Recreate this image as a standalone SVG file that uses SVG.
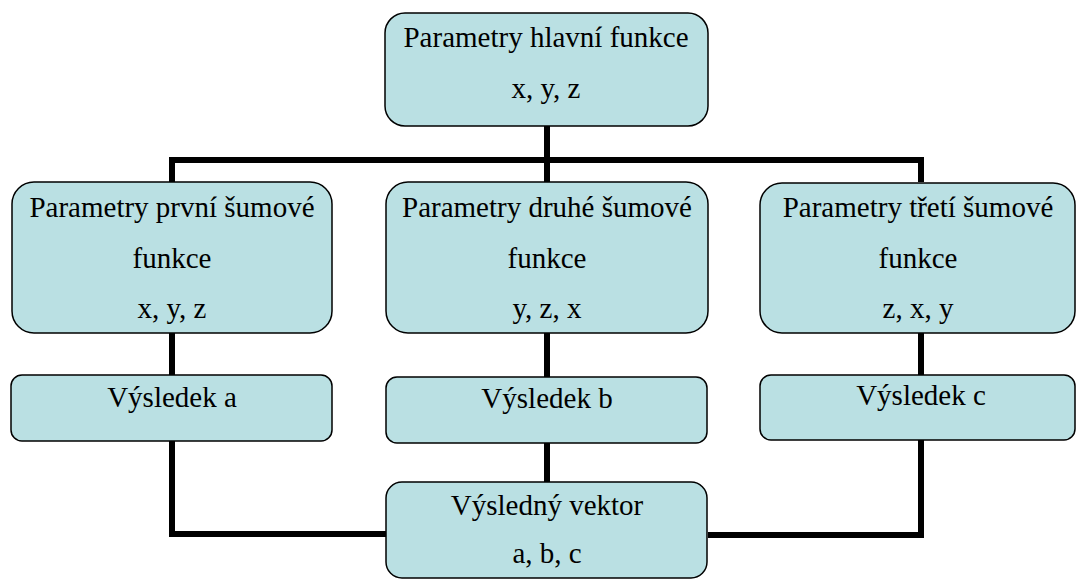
<svg xmlns="http://www.w3.org/2000/svg" width="1076" height="583" viewBox="0 0 1076 583">
<style>
.box{fill:#bae0e3;stroke:#000;stroke-width:1.5}
.c{fill:none;stroke:#000;stroke-width:6;stroke-linejoin:miter}
</style>
<rect width="1076" height="583" fill="#fff"/>
<g id="connectors">
<path class="c" d="M547 126 V160 M172 182 V160 H921 V182"/>
<path class="c" d="M547 160 V182"/>
<path class="c" d="M172 333 V375 M547 333 V377 M921 333 V375"/>
<path class="c" d="M172 441 V534 H386 M547 443 V482 M921 440 V535 H708"/>
</g>
<g id="top">
<rect class="box" x="385" y="13" width="323" height="113" rx="20"/>
<text x="546" y="47" font-family="Liberation Serif" font-size="29" text-anchor="middle" style="font-family:'Liberation Serif',serif">Parametry hlavní funkce</text>
<text x="546" y="98" font-family="Liberation Serif" font-size="29" text-anchor="middle" style="font-family:'Liberation Serif',serif">x, y, z</text>
</g>
<g id="p1">
<rect class="box" x="12" y="182" width="320" height="151" rx="22"/>
<text x="172" y="217" font-family="Liberation Serif" font-size="29" text-anchor="middle" style="font-family:'Liberation Serif',serif">Parametry první šumové</text>
<text x="172" y="268" font-family="Liberation Serif" font-size="29" text-anchor="middle" style="font-family:'Liberation Serif',serif">funkce</text>
<text x="172" y="318" font-family="Liberation Serif" font-size="29" text-anchor="middle" style="font-family:'Liberation Serif',serif">x, y, z</text>
</g>
<g id="p2">
<rect class="box" x="386" y="182" width="322" height="151" rx="22"/>
<text x="547" y="217" font-family="Liberation Serif" font-size="29" text-anchor="middle" style="font-family:'Liberation Serif',serif">Parametry druhé šumové</text>
<text x="547" y="268" font-family="Liberation Serif" font-size="29" text-anchor="middle" style="font-family:'Liberation Serif',serif">funkce</text>
<text x="547" y="318" font-family="Liberation Serif" font-size="29" text-anchor="middle" style="font-family:'Liberation Serif',serif">y, z, x</text>
</g>
<g id="p3">
<rect class="box" x="760" y="183" width="315" height="150" rx="22"/>
<text x="918" y="217" font-family="Liberation Serif" font-size="29" text-anchor="middle" style="font-family:'Liberation Serif',serif">Parametry třetí šumové</text>
<text x="918" y="268" font-family="Liberation Serif" font-size="29" text-anchor="middle" style="font-family:'Liberation Serif',serif">funkce</text>
<text x="918" y="318" font-family="Liberation Serif" font-size="29" text-anchor="middle" style="font-family:'Liberation Serif',serif">z, x, y</text>
</g>
<g id="ra">
<rect class="box" x="11" y="375" width="321" height="66" rx="11"/>
<text x="172" y="407" font-family="Liberation Serif" font-size="29" text-anchor="middle" style="font-family:'Liberation Serif',serif">Výsledek a</text>
</g>
<g id="rb">
<rect class="box" x="386" y="377" width="321" height="66" rx="11"/>
<text x="547" y="408" font-family="Liberation Serif" font-size="29" text-anchor="middle" style="font-family:'Liberation Serif',serif">Výsledek b</text>
</g>
<g id="rc">
<rect class="box" x="760" y="375" width="315" height="65" rx="11"/>
<text x="921" y="405" font-family="Liberation Serif" font-size="29" text-anchor="middle" style="font-family:'Liberation Serif',serif">Výsledek c</text>
</g>
<g id="vec">
<rect class="box" x="386" y="482" width="321" height="96" rx="16"/>
<text x="547" y="515" font-family="Liberation Serif" font-size="29" text-anchor="middle" style="font-family:'Liberation Serif',serif">Výsledný vektor</text>
<text x="547" y="563" font-family="Liberation Serif" font-size="29" text-anchor="middle" style="font-family:'Liberation Serif',serif">a, b, c</text>
</g>
</svg>
